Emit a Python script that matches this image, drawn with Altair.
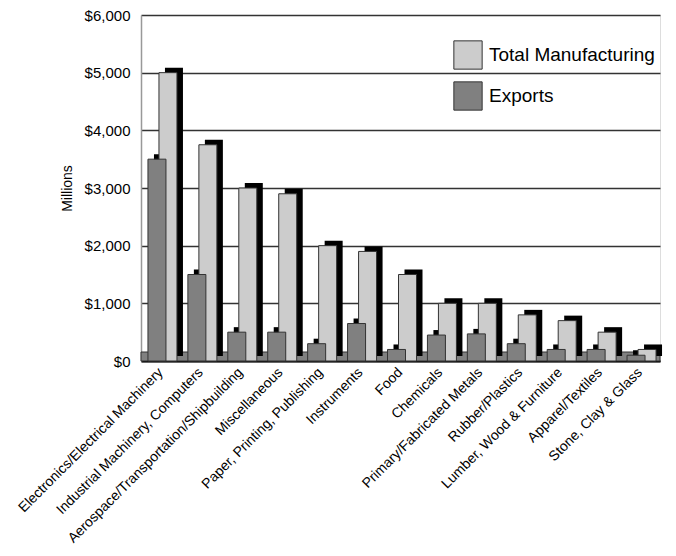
import altair as alt
import pandas as pd

categories = [
    "Electronics/Electrical Machinery",
    "Industrial Machinery, Computers",
    "Aerospace/Transportation/Shipbuilding",
    "Miscellaneous",
    "Paper, Printing, Publishing",
    "Instruments",
    "Food",
    "Chemicals",
    "Primary/Fabricated Metals",
    "Rubber/Plastics",
    "Lumber, Wood & Furniture",
    "Apparel/Textiles",
    "Stone, Clay & Glass",
]
total_manufacturing = [5000, 3750, 3000, 2900, 2000, 1900, 1500, 1000, 1000, 800, 700, 500, 200]
exports = [3500, 1500, 500, 500, 300, 650, 200, 450, 470, 300, 200, 200, 100]
series_names = ["Total Manufacturing", "Exports"]
series_colors = ["#cccccc", "#808080"]

W, H = 519, 346
FONT = "Liberation Sans, Arial, Helvetica, sans-serif"

df_total = pd.DataFrame({"category": categories, "value": total_manufacturing,
                         "series": series_names[0]})
df_exp = pd.DataFrame({"category": categories, "value": exports,
                       "series": series_names[1]})

xenc = alt.X("category:N", sort=categories,
             scale=alt.Scale(paddingInner=0, paddingOuter=0),
             axis=alt.Axis(title=None, labelAngle=-45, labelAlign="right",
                           labelBaseline="middle", labelFont=FONT,
                           labelFontSize=14, labelColor="#000",
                           labelPadding=9, ticks=False, domainColor="#000",
                           domainWidth=2, labelLimit=400))
yenc = alt.Y("value:Q", stack=None,
             scale=alt.Scale(domain=[0, 6000], nice=False),
             axis=alt.Axis(title="Millions", values=[0, 1000, 2000, 3000, 4000, 5000, 6000],
                           format="$,.0f", labelFont=FONT, labelFontSize=15,
                           labelColor="#000", labelPadding=11, ticks=False,
                           titleFont=FONT, titleFontSize=14, titleFontWeight="normal",
                           titleColor="#000", titlePadding=10,
                           domainColor="#999", domainWidth=1.5,
                           grid=True, gridColor="#333", gridWidth=1.5))
y2enc = alt.Y2(datum=0)

color_enc = alt.Color("series:N",
                      scale=alt.Scale(domain=series_names, range=series_colors),
                      legend=alt.Legend(title=None, orient="none", legendX=312, legendY=25,
                                        symbolType="square", symbolSize=800,
                                        symbolStrokeColor="#333", symbolStrokeWidth=1,
                                        labelFont=FONT, labelFontSize=19, labelColor="#000",
                                        labelOffset=6, rowPadding=7, labelLimit=400))

floor = alt.Chart(alt.Data(values=[{"a": 1}])).mark_rect(
    fill="#808080", stroke="#333", strokeWidth=1
).encode(x=alt.value(0), x2=alt.value(W), y=alt.value(H - 9), y2=alt.value(H))

DX_E, DX_T, SH_X, SH_Y, BW = -4, 7, 6, -5, 18

shadow_e = alt.Chart(df_exp).mark_bar(
    width=BW, color="#000", xOffset=DX_E + SH_X, yOffset=SH_Y, y2Offset=SH_Y
).encode(x=xenc, y=yenc, y2=y2enc)
shadow_t = alt.Chart(df_total).mark_bar(
    width=BW, color="#000", xOffset=DX_T + SH_X, yOffset=SH_Y, y2Offset=SH_Y
).encode(x=xenc, y=yenc, y2=y2enc)
bar_t = alt.Chart(df_total).mark_bar(
    width=BW, xOffset=DX_T, stroke="#333", strokeWidth=1
).encode(x=xenc, y=yenc, y2=y2enc, color=color_enc)
bar_e = alt.Chart(df_exp).mark_bar(
    width=BW, xOffset=DX_E, stroke="#333", strokeWidth=1
).encode(x=xenc, y=yenc, y2=y2enc, color=color_enc)

chart = alt.layer(floor, shadow_e, shadow_t, bar_t, bar_e).properties(
    width=W, height=H,
    autosize=alt.AutoSizeParams(type="none"),
    padding={"left": 133, "top": 7, "right": 6, "bottom": 192},
).configure_view(stroke=None).configure(background="white")

chart.save("out.html", embed_options={"renderer": "svg", "actions": False})
